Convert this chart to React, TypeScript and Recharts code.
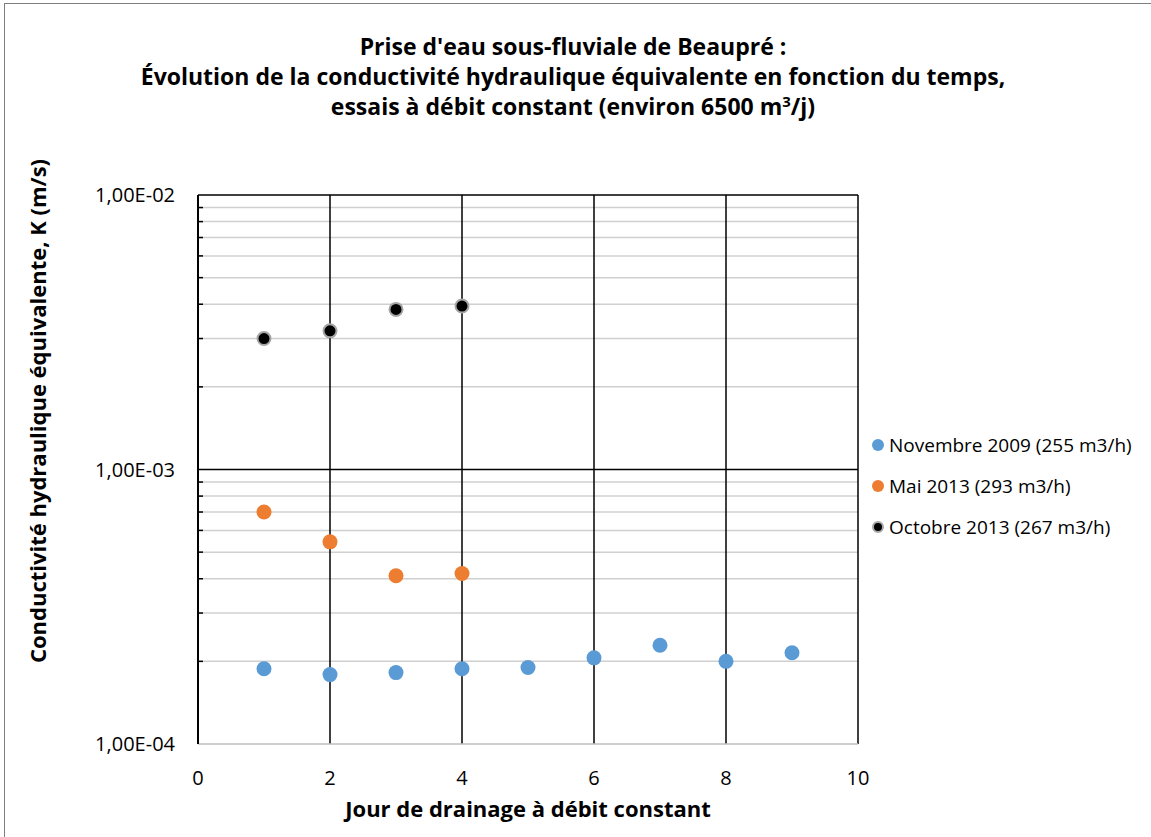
import React from 'react';
import { ScatterChart, Scatter, XAxis, YAxis, ReferenceLine, Legend } from 'recharts';

const FONT = '"Open Sans", "Noto Sans", sans-serif';

const days = [1, 2, 3, 4, 5, 6, 7, 8, 9];
const nov2009 = [1.88e-4, 1.79e-4, 1.82e-4, 1.88e-4, 1.9e-4, 2.06e-4, 2.29e-4, 2.0e-4, 2.15e-4];
const mai2013 = [7.0e-4, 5.45e-4, 4.1e-4, 4.18e-4];
const oct2013 = [3.0e-3, 3.2e-3, 3.83e-3, 3.94e-3];

const xTicks = [0, 2, 4, 6, 8, 10];
const xMajorGrid = [2, 4, 6, 8, 10];
const yMajor = [1e-4, 1e-3, 1e-2];
const yMajorGrid = [1e-3, 1e-2];
const yMinor = [2e-4, 3e-4, 4e-4, 5e-4, 6e-4, 7e-4, 8e-4, 9e-4, 2e-3, 3e-3, 4e-3, 5e-3, 6e-3, 7e-3, 8e-3, 9e-3];
const yAllTicks = [...yMajor, ...yMinor].sort((a, b) => a - b);

const titleLines = [
  "Prise d'eau sous-fluviale de Beaupré :",
  'Évolution de la conductivité hydraulique équivalente en fonction du temps,',
];
const xTitle = 'Jour de drainage à débit constant';
const yTitle = 'Conductivité hydraulique équivalente, K (m/s)';

const series = [
  { name: 'Novembre 2009 (255 m3/h)', values: nov2009, fill: '#5b9bd5', stroke: 'none', r: 7.5 },
  { name: 'Mai 2013 (293 m3/h)', values: mai2013, fill: '#ed7d31', stroke: 'none', r: 7.5 },
  { name: 'Octobre 2013 (267 m3/h)', values: oct2013, fill: '#000000', stroke: '#a6a6a6', r: 6.5 },
];

const toData = (vals: number[]) => vals.map((v, i) => ({ x: days[i], y: v }));

const fmtSci = (v: number) => {
  const e = Math.round(Math.log10(v));
  const m = v / Math.pow(10, e);
  const sign = e < 0 ? '-' : '+';
  return `${m.toFixed(2).replace('.', ',')}E${sign}${String(Math.abs(e)).padStart(2, '0')}`;
};

const isMajor = (v: number) => yMajor.some((m) => Math.abs(m - v) / m < 1e-6);

const Y_TICK_MARGIN = 23;

const YTick = (props: any) => {
  const { x, y, payload } = props;
  const v = payload.value as number;
  const ax = x + Y_TICK_MARGIN;
  return (
    <g>
      {!isMajor(v) && <line x1={ax} x2={ax + 5} y1={y} y2={y} stroke="#000" strokeWidth={1.5} />}
      {isMajor(v) && (
        <text x={x} y={y} dy="0.36em" textAnchor="end" fontFamily={FONT} fontSize={20} fill="#000">
          {fmtSci(v)}
        </text>
      )}
    </g>
  );
};

const makeShape = (fill: string, stroke: string, r: number) => (props: any) => {
  const { cx, cy } = props;
  if (cx == null || cy == null) return <g />;
  return <circle cx={cx} cy={cy} r={r} fill={fill} stroke={stroke} strokeWidth={stroke === 'none' ? 0 : 2} />;
};

const LegendContent = () => (
  <div style={{ fontFamily: FONT, fontSize: 19, color: '#000' }}>
    {series.map((s) => (
      <div key={s.name} style={{ display: 'flex', alignItems: 'center', height: 41, whiteSpace: 'nowrap' }}>
        <svg width={14} height={14} style={{ flex: 'none' }}>
          <circle cx={7} cy={7} r={s.stroke === 'none' ? 6 : 5} fill={s.fill} stroke={s.stroke} strokeWidth={s.stroke === 'none' ? 0 : 2} />
        </svg>
        <span style={{ marginLeft: 4 }}>{s.name}</span>
      </div>
    ))}
  </div>
);

export default function App() {
  return (
    <div style={{ position: 'absolute', left: 0, top: 0, width: 1151, height: 837, overflow: 'hidden', background: '#fff', fontFamily: FONT }}>
      <div style={{ position: 'absolute', left: 4, top: 3, width: 1200, height: 900, border: '1.5px solid #7f7f7f', boxSizing: 'border-box' }} />
      <div
        style={{
          position: 'absolute',
          left: 0,
          top: 31,
          width: 1146,
          textAlign: 'center',
          fontWeight: 700,
          fontSize: 23,
          lineHeight: '30px',
          color: '#000',
          whiteSpace: 'nowrap',
        }}
      >
        <div>{titleLines[0]}</div>
        <div>{titleLines[1]}</div>
        <div>
          essais à débit constant (environ 6500 m<sup style={{ fontSize: '0.65em', verticalAlign: 'top', lineHeight: '20px' }}>3</sup>/j)
        </div>
      </div>
      <div
        style={{
          position: 'absolute',
          left: 37,
          top: 411,
          transform: 'translate(-50%, -50%) rotate(-90deg)',
          whiteSpace: 'nowrap',
          fontWeight: 700,
          fontSize: 22,
          color: '#000',
        }}
      >
        {yTitle}
      </div>
      <div
        style={{
          position: 'absolute',
          left: 198,
          width: 660,
          top: 793,
          textAlign: 'center',
          whiteSpace: 'nowrap',
          fontWeight: 700,
          fontSize: 22,
          color: '#000',
        }}
      >
        {xTitle}
      </div>
      <ScatterChart width={1151} height={837} margin={{ top: 195, right: 293, bottom: 0, left: 0 }} style={{ position: 'absolute', left: 0, top: 0 }}>
        <XAxis
          type="number"
          dataKey="x"
          domain={[0, 10]}
          ticks={xTicks}
          interval={0}
          height={93}
          tickLine={false}
          tickMargin={21}
          axisLine={{ stroke: '#bfbfbf', strokeWidth: 1.5 }}
          tick={{ fontFamily: FONT, fontSize: 20, fill: '#000' }}
        />
        <YAxis
          type="number"
          dataKey="y"
          scale="log"
          domain={[1e-4, 1e-2]}
          allowDataOverflow
          ticks={yAllTicks}
          interval={0}
          width={198}
          tickLine={false}
          tickSize={0}
          tickMargin={Y_TICK_MARGIN}
          axisLine={{ stroke: '#000', strokeWidth: 2 }}
          tick={<YTick />}
        />
        {yMinor.map((v) => (
          <ReferenceLine key={'mn' + v} y={v} stroke="#d0d0d0" strokeWidth={1.5} />
        ))}
        {yMajorGrid.map((v) => (
          <ReferenceLine key={'mj' + v} y={v} stroke="#000" strokeWidth={1.5} />
        ))}
        {xMajorGrid.map((v) => (
          <ReferenceLine key={'vx' + v} x={v} stroke="#000" strokeWidth={1.5} />
        ))}
        {series.map((s) => (
          <Scatter
            key={s.name}
            name={s.name}
            data={toData(s.values)}
            fill={s.fill}
            isAnimationActive={false}
            shape={makeShape(s.fill, s.stroke, s.r)}
          />
        ))}
        <Legend
          layout="vertical"
          align="center"
          verticalAlign="middle"
          content={<LegendContent />}
          wrapperStyle={{ position: 'absolute', left: 871, top: 424, width: 280 }}
        />
      </ScatterChart>
    </div>
  );
}
